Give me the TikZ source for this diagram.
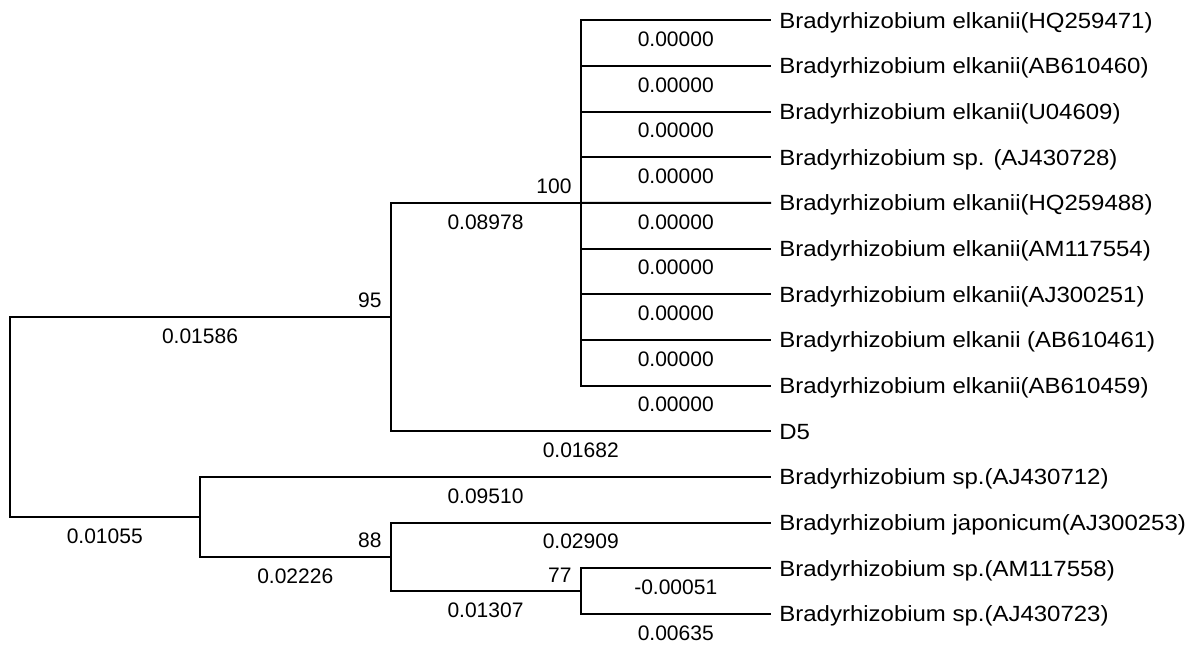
\documentclass[tikz,border=0pt]{standalone}
\usepackage{fontspec}
\usepackage{tikz}
\usetikzlibrary{positioning}
\newfontfamily\taxfam[FakeStretch=1.09]{Liberation Sans}
\newfontfamily\numfam{Liberation Sans}
\newcommand{\taxfont}{\taxfam\fontsize{11}{13}\selectfont}
\newcommand{\numfont}{\numfam\fontsize{10.5}{12}\selectfont}
\tikzstyle{branch} = [line width=1pt]
\tikzstyle{taxon} = [anchor=base west, inner sep=0pt, yshift=-3.9pt, font=\taxfont]
\tikzstyle{blen} = [below=5.3pt, inner sep=0pt, font=\numfont]
\tikzstyle{boot} = [anchor=south east, inner sep=0pt, xshift=-4pt, yshift=4pt, font=\numfont]

\begin{document}
\begin{tikzpicture}[x=0.5pt, y=-0.5pt, node distance=22.835pt]
  \useasboundingbox (0,0) rectangle (1200,647);
  % leaf tips
  \coordinate (t1) at (771,20.3);
  \coordinate[below of=t1] (t2);
  \coordinate[below of=t2] (t3);
  \coordinate[below of=t3] (t4);
  \coordinate[below of=t4] (t5);
  \coordinate[below of=t5] (t6);
  \coordinate[below of=t6] (t7);
  \coordinate[below of=t7] (t8);
  \coordinate[below of=t8] (t9);
  \coordinate[below of=t9] (d5);
  \coordinate[below of=d5] (t11);
  \coordinate[below of=t11] (t12);
  \coordinate[below of=t12] (t13);
  \coordinate[below of=t13] (t14);
  % inner nodes
  \coordinate (root) at (9.5,417.1);
  \coordinate (n95) at (390.5,317.2);
  \coordinate (n100) at (580.5,203);
  \coordinate (nlow) at (200,517);
  \coordinate (n88) at (390.5,557);
  \coordinate (n77) at (580.5,591.2);
  % taxa
  \node[right=4pt of t1, taxon] (s1) {Bradyrhizobium elkanii(HQ259471)};
  \node[right=4pt of t2, taxon] (s2) {Bradyrhizobium elkanii(AB610460)};
  \node[right=4pt of t3, taxon] (s3) {Bradyrhizobium elkanii(U04609)};
  \node[right=4pt of t4, taxon] (s4) {Bradyrhizobium sp. (AJ430728)};
  \node[right=4pt of t5, taxon] (s5) {Bradyrhizobium elkanii(HQ259488)};
  \node[right=4pt of t6, taxon] (s6) {Bradyrhizobium elkanii(AM117554)};
  \node[right=4pt of t7, taxon] (s7) {Bradyrhizobium elkanii(AJ300251)};
  \node[right=4pt of t8, taxon] (s8) {Bradyrhizobium elkanii (AB610461)};
  \node[right=4pt of t9, taxon] (s9) {Bradyrhizobium elkanii(AB610459)};
  \node[right=4pt of d5, taxon] (sd5) {D5};
  \node[right=4pt of t11, taxon] (s11) {Bradyrhizobium sp.(AJ430712)};
  \node[right=4pt of t12, taxon] (s12) {Bradyrhizobium japonicum(AJ300253)};
  \node[right=4pt of t13, taxon] (s13) {Bradyrhizobium sp.(AM117558)};
  \node[right=4pt of t14, taxon] (s14) {Bradyrhizobium sp.(AJ430723)};
  % branches
  \draw[branch] (root) |- node[blen, pos=.75] {0.01586} (n95) node[boot] {95};
  \draw[branch] (root) |- node[blen, pos=.75] {0.01055} (nlow);
  \draw[branch] (n95) |- node[blen, pos=.75] {0.08978} (n100) node[boot] {100};
  \draw[branch] (n95) |- node[blen, pos=.75] {0.01682} (d5);
  \draw[branch] (n100) |- node[blen, pos=.75] {0.00000} (t1);
  \draw[branch] (n100) |- node[blen, pos=.75] {0.00000} (t2);
  \draw[branch] (n100) |- node[blen, pos=.75] {0.00000} (t3);
  \draw[branch] (n100) |- node[blen, pos=.75] {0.00000} (t4);
  \draw[branch] (n100) -- node[blen] {0.00000} (t5);
  \draw[branch] (n100) |- node[blen, pos=.75] {0.00000} (t6);
  \draw[branch] (n100) |- node[blen, pos=.75] {0.00000} (t7);
  \draw[branch] (n100) |- node[blen, pos=.75] {0.00000} (t8);
  \draw[branch] (n100) |- node[blen, pos=.75] {0.00000} (t9);
  \draw[branch] (nlow) |- node[blen, pos=.75] {0.09510} (t11);
  \draw[branch] (nlow) |- node[blen, pos=.75] {0.02226} (n88) node[boot] {88};
  \draw[branch] (n88) |- node[blen, pos=.75] {0.02909} (t12);
  \draw[branch] (n88) |- node[blen, pos=.75] {0.01307} (n77) node[boot] {77};
  \draw[branch] (n77) |- node[blen, pos=.75] {-0.00051} (t13);
  \draw[branch] (n77) |- node[blen, pos=.75] {0.00635} (t14);
\end{tikzpicture}
\end{document}
